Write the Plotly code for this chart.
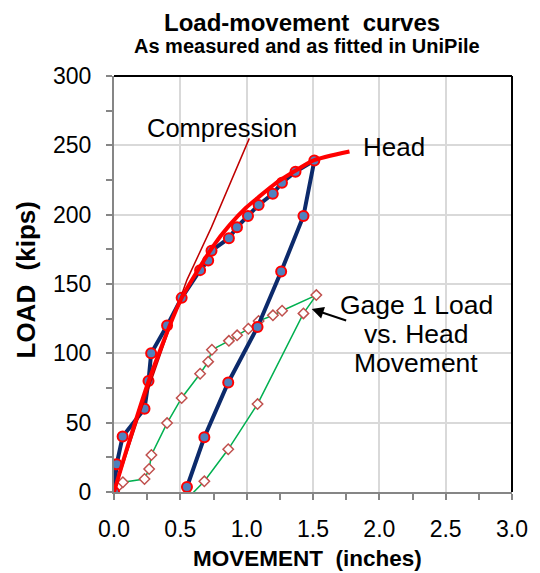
import plotly.graph_objects as go

# Measured head load-movement (loading then unloading)
head_x = [0.0, 0.02, 0.065, 0.23, 0.26, 0.28, 0.40, 0.51, 0.649, 0.71, 0.735, 0.866, 0.927, 1.01, 1.09, 1.197, 1.266, 1.368, 1.51,
          1.428, 1.26, 1.082, 0.861, 0.681, 0.55]
head_y = [0, 20, 40, 60, 80, 100, 120, 140, 160, 167, 174, 183, 191, 199, 207, 215, 223, 231, 239,
          199, 159, 119, 79, 39.5, 3.6]

# Gage 1 load vs head movement
gage_x = [0.0, 0.03, 0.067, 0.23, 0.265, 0.282, 0.40, 0.51, 0.649, 0.71, 0.738, 0.866, 0.928, 1.013, 1.09, 1.198, 1.267, 1.525,
          1.428, 1.082, 0.861, 0.681, 0.55]
gage_y = [0, 4, 7, 9.4, 16.6, 26.7, 49.7, 67.8, 85.3, 94, 102.6, 109, 113, 117.7, 123.3, 127.4, 130.7, 142,
          128.8, 63.4, 30.8, 7.7, -5]

# Compression curve
comp_x = [0.0, 0.2, 0.4, 0.55, 0.735, 0.909, 1.02]
comp_y = [0, 58, 113, 153, 191, 230, 255]

# Fitted head curve (UniPile)
fit_x = [0.0, 0.1, 0.265, 0.5, 0.748, 0.871, 0.995, 1.094, 1.218, 1.342, 1.5, 1.775]
fit_y = [0, 32, 81, 138, 177.4, 192.5, 205, 213, 222.6, 230.2, 239, 245.5]

x_ticks = [0.0, 0.5, 1.0, 1.5, 2.0, 2.5, 3.0]
y_ticks = [0, 50, 100, 150, 200, 250, 300]

FONT = "Liberation Sans, Arial, sans-serif"

fig = go.Figure()
fig.add_trace(go.Scatter(
    x=gage_x, y=gage_y, mode="lines+markers",
    line=dict(color="#00b050", width=1.5),
    marker=dict(symbol="diamond", size=8, color="white", line=dict(color="#c0504d", width=1.5)),
    showlegend=False))
fig.add_trace(go.Scatter(
    x=head_x, y=head_y, mode="lines+markers",
    line=dict(color="#0c2a6b", width=4),
    marker=dict(symbol="circle", size=10, color="#4f81bd", line=dict(color="#ff0000", width=2)),
    showlegend=False))
fig.add_trace(go.Scatter(
    x=comp_x, y=comp_y, mode="lines",
    line=dict(color="#c00000", width=1.5),
    showlegend=False))
fig.add_trace(go.Scatter(
    x=fit_x, y=fit_y, mode="lines",
    line=dict(color="#ff0000", width=4, shape="spline", smoothing=0.6),
    showlegend=False))

axis_common = dict(
    showgrid=True, gridcolor="#d9d9d9", gridwidth=2,
    showline=True, linecolor="#868686", linewidth=2,
    ticks="outside", ticklen=6, tickwidth=1.5, tickcolor="#868686",
    tickfont=dict(family=FONT, size=23, color="black"),
    zeroline=False,
)

fig.update_xaxes(range=[0, 3.0], tickvals=x_ticks, ticktext=[f"{v:.1f}" for v in x_ticks],
                 minor=dict(ticks="outside", dtick=0.25, tick0=0, ticklen=6, tickcolor="#868686", showgrid=False),
                 ticklabelstandoff=9, **axis_common)
fig.update_yaxes(range=[0, 300], tickvals=y_ticks,
                 minor=dict(ticks="outside", dtick=25, tick0=0, ticklen=6, tickcolor="#868686", showgrid=False),
                 ticklabelstandoff=10, **axis_common)

annos = [
    dict(text="<b>Load-movement  curves</b>", x=0.4716, y=1.1298, xref="paper", yref="paper",
         showarrow=False, font=dict(family=FONT, size=24, color="black"), xanchor="center", yanchor="middle"),
    dict(text="<b>As measured and as fitted in UniPile</b>", x=0.484, y=1.072, xref="paper", yref="paper",
         showarrow=False, font=dict(family=FONT, size=20, color="black"), xanchor="center", yanchor="middle"),
    dict(text="<b>MOVEMENT  (inches)</b>", x=0.486, y=-0.161, xref="paper", yref="paper",
         showarrow=False, font=dict(family=FONT, size=22.5, color="black"), xanchor="center", yanchor="middle"),
    dict(text="<b>LOAD  (kips)</b>", x=-0.222, y=0.51, xref="paper", yref="paper", textangle=-90,
         showarrow=False, font=dict(family=FONT, size=26, color="black"), xanchor="center", yanchor="middle"),
    dict(text="Compression", x=0.814, y=262.4, xref="x", yref="y", showarrow=False,
         font=dict(family=FONT, size=25.5, color="black"), xanchor="center", yanchor="middle"),
    dict(text="Head", x=2.11, y=248.7, xref="x", yref="y", showarrow=False,
         font=dict(family=FONT, size=26, color="black"), xanchor="center", yanchor="middle"),
    dict(text="Gage 1 Load", x=2.277, y=134.8, xref="x", yref="y", showarrow=False,
         font=dict(family=FONT, size=26.5, color="black"), xanchor="center", yanchor="middle"),
    dict(text="vs. Head", x=2.277, y=113.9, xref="x", yref="y", showarrow=False,
         font=dict(family=FONT, size=26.5, color="black"), xanchor="center", yanchor="middle"),
    dict(text="Movement", x=2.277, y=93.0, xref="x", yref="y", showarrow=False,
         font=dict(family=FONT, size=26.5, color="black"), xanchor="center", yanchor="middle"),
    dict(text="", x=1.49, y=132, xref="x", yref="y", showarrow=True, ax=36, ay=12,
         arrowhead=2, arrowsize=1.2, arrowwidth=2, arrowcolor="black"),
]

fig.update_layout(
    width=540, height=573,
    margin=dict(l=114, r=21, t=76, b=81),
    paper_bgcolor="white", plot_bgcolor="white",
    annotations=annos,
    shapes=[
        dict(type="line", xref="paper", yref="paper", x0=0, x1=1, y0=1, y1=1, line=dict(color="black", width=2)),
        dict(type="line", xref="paper", yref="paper", x0=1, x1=1, y0=0, y1=1, line=dict(color="black", width=2)),
    ],
)

fig.write_html("out.html")
